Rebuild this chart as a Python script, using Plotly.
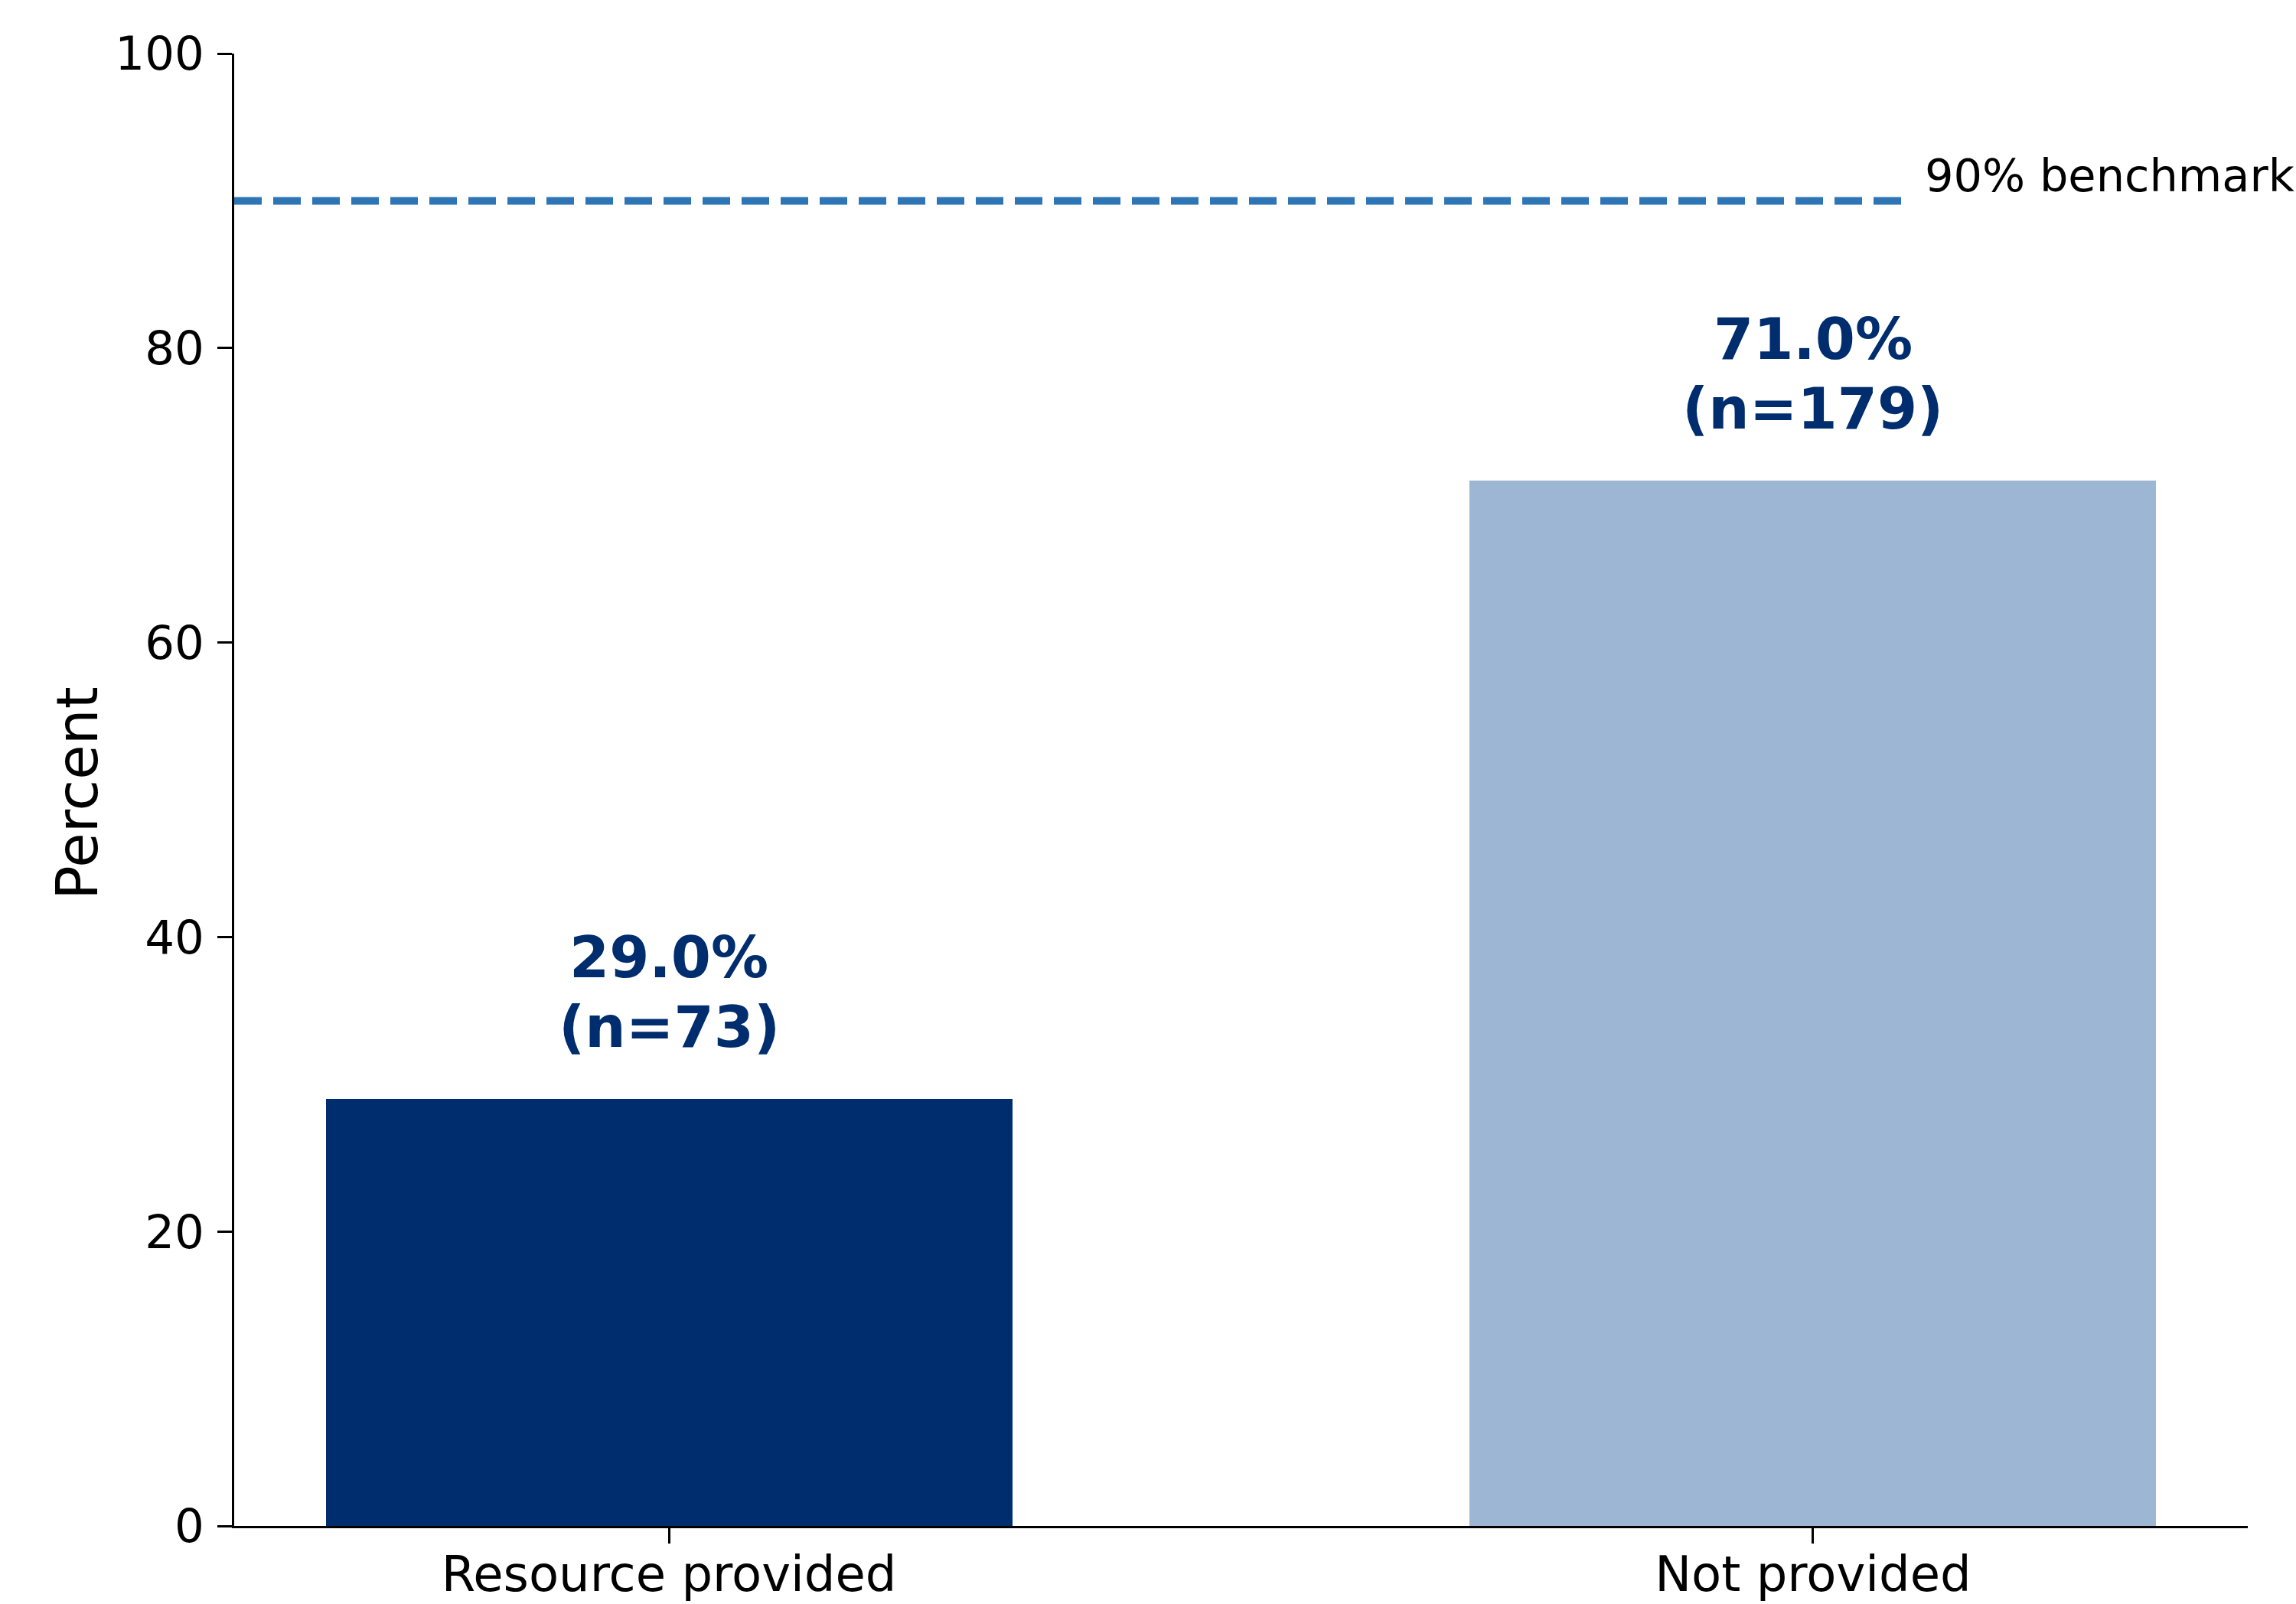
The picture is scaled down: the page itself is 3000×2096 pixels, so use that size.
import plotly.graph_objects as go

# Data
categories = ["Resource provided", "Not provided"]
percents = [29.0, 71.0]
counts = [73, 179]
benchmark = 90
bar_colors = ["#002D6E", "#9DB6D4"]
y_ticks = [0, 20, 40, 60, 80, 100]

FONT = "DejaVu Sans, sans-serif"
LABEL_COLOR = "#002D6E"

x_pos = list(range(len(categories)))

fig = go.Figure()
fig.add_trace(go.Bar(
    x=x_pos, y=percents, width=0.6,
    marker=dict(color=bar_colors, line=dict(width=0)),
    hoverinfo="skip", showlegend=False,
))

# Benchmark reference line
fig.add_shape(type="line", xref="x", yref="y",
              x0=-0.38, x1=1.085, y0=benchmark, y1=benchmark,
              line=dict(color="#2E75B6", width=10, dash="36px,15px"))
fig.add_annotation(x=1.085, y=benchmark, xref="x", yref="y",
                   text=f"{benchmark}% benchmark", showarrow=False,
                   xanchor="left", yanchor="middle", xshift=17, yshift=33,
                   font=dict(family=FONT, size=59, color="black"))

# Value labels above bars
for xi, p, n in zip(x_pos, percents, counts):
    fig.add_annotation(x=xi, y=p, xref="x", yref="y", text=f"<b>{p:.1f}%</b>",
                       showarrow=False, xanchor="center", yanchor="middle",
                       yshift=185, font=dict(family=FONT, size=75, color=LABEL_COLOR))
    fig.add_annotation(x=xi, y=p, xref="x", yref="y", text=f"<b>(n={n})</b>",
                       showarrow=False, xanchor="center", yanchor="middle",
                       yshift=94, font=dict(family=FONT, size=75, color=LABEL_COLOR))

# Y axis title
fig.add_annotation(x=-0.078, y=0.5, xref="paper", yref="paper", text="Percent",
                   textangle=-90, showarrow=False, xanchor="center", yanchor="middle",
                   yshift=-5, font=dict(family=FONT, size=74, color="black"))

fig.update_layout(
    width=3000, height=2096,
    margin=dict(l=306, r=63, t=70, b=102, autoexpand=False),
    paper_bgcolor="white", plot_bgcolor="white",
    font=dict(family=FONT, size=64, color="black"),
    bargap=0,
)
fig.update_xaxes(
    range=[-0.38, 1.38], tickvals=x_pos, ticktext=categories,
    showline=True, linecolor="black", linewidth=3,
    ticks="outside", ticklen=20, tickwidth=3, tickcolor="black",
    showgrid=False, zeroline=False, automargin=False,
    ticklabelstandoff=-15,
    tickfont=dict(family=FONT, size=64, color="black"),
)
fig.update_yaxes(
    range=[0, 100], tickvals=y_ticks,
    showline=True, linecolor="black", linewidth=3,
    ticks="outside", ticklen=19, tickwidth=3, tickcolor="black",
    showgrid=False, zeroline=False, automargin=False,
    ticklabelstandoff=5,
    tickfont=dict(family=FONT, size=61, color="black"),
)

fig.write_html("out.html")
